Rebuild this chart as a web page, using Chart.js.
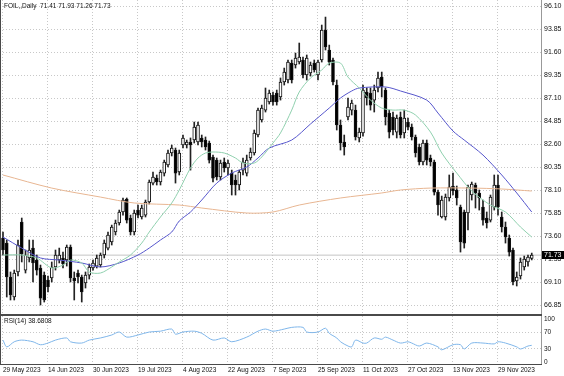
<!DOCTYPE html>
<html>
<head>
<meta charset="utf-8">
<script src="https://cdn.jsdelivr.net/npm/chart.js@4.4.0/dist/chart.umd.min.js"></script>
<style>
  html, body { margin: 0; padding: 0; background: #fff; }
  #wrap { position: relative; width: 564px; height: 376px; overflow: hidden; background: #fff; }
  canvas { position: absolute; left: 0; }
  #pricePane { top: 0; }
  #rsiPane { top: 314px; }
</style>
</head>
<body>
<div id="wrap">
  <canvas id="pricePane" width="564" height="314"></canvas>
  <canvas id="rsiPane" width="564" height="62"></canvas>
</div>
<script>
// ===== FOIL daily: candles + 3 MAs, RSI(14) pane =====

const symbolName = 'FOIL,,Daily';

// date axis: one label every 12 bars
const xLabelIdx = [0, 12, 24, 36, 48, 60, 72, 84, 96, 108, 120, 132];
const xLabels = ['29 May 2023', '14 Jun 2023', '30 Jun 2023', '19 Jul 2023', '4 Aug 2023', '22 Aug 2023',
  '7 Sep 2023', '25 Sep 2023', '11 Oct 2023', '27 Oct 2023', '13 Nov 2023', '29 Nov 2023'];

// price axis ticks
const priceTicks = [66.85, 69.10, 71.35, 73.60, 75.85, 78.10, 80.35, 82.60, 84.85, 87.10, 89.35, 91.60, 93.85, 96.10];
const rsiTicks = [0, 30, 70, 100];

// OHLC, one entry per daily bar
const open = [
  73.40, 72.91, 69.59, 67.63, 70.08, 74.97, 70.27, 71.45, 72.42, 71.25,
  70.47, 69.78, 69.29, 69.49, 70.57, 71.25, 71.45, 71.25, 72.52, 69.49,
  69.98, 69.59, 69.00, 69.78, 70.47, 70.66, 70.76, 71.74, 72.42, 73.01,
  73.99, 74.87, 75.95, 77.22, 75.36, 73.99, 76.14, 75.46, 75.65, 76.93,
  78.78, 79.27, 78.88, 79.76, 80.55, 81.72, 82.01, 79.86, 82.50, 82.50,
  82.80, 82.99, 82.80, 83.19, 82.99, 82.70, 81.33, 81.03, 79.37, 80.84,
  80.25, 79.76, 79.08, 78.59, 80.05, 79.76, 81.23, 81.72, 83.48, 84.95,
  85.92, 86.71, 87.39, 87.59, 87.20, 88.67, 88.86, 90.52, 90.33, 90.62,
  90.82, 89.35, 89.55, 90.52, 89.35, 90.82, 93.75, 91.80, 90.82, 88.37,
  84.46, 82.80, 85.24, 85.92, 85.92, 83.19, 83.68, 87.69, 87.59, 86.90,
  88.08, 89.15, 87.88, 85.63, 85.24, 83.77, 85.24, 83.68, 84.75, 84.26,
  83.29, 82.31, 80.84, 82.70, 81.23, 80.84, 77.90, 75.46, 75.46, 77.32,
  78.49, 78.10, 76.44, 75.95, 75.85, 77.61, 78.59, 77.81, 76.44, 75.36,
  75.16, 76.44, 78.59, 75.46, 74.48, 73.40, 72.23, 69.20, 69.69, 70.57,
  71.06, 71.41
];
const high = [
  73.99, 73.21, 70.08, 70.27, 73.21, 75.36, 72.23, 73.21, 73.21, 71.74,
  70.76, 70.08, 69.69, 71.06, 72.23, 72.42, 72.03, 72.72, 72.72, 70.08,
  70.27, 69.78, 70.08, 70.86, 71.25, 71.74, 71.94, 73.21, 73.99, 74.67,
  75.16, 76.14, 77.32, 77.32, 75.65, 76.14, 76.63, 76.63, 77.12, 79.08,
  79.86, 79.57, 80.05, 81.03, 82.01, 82.50, 82.21, 82.01, 83.48, 82.99,
  83.19, 84.75, 84.75, 83.48, 83.29, 82.89, 81.52, 81.23, 81.03, 81.23,
  81.03, 80.05, 79.57, 80.05, 81.23, 81.52, 82.21, 83.97, 86.12, 86.41,
  88.08, 87.88, 87.69, 87.88, 89.06, 90.03, 90.82, 90.82, 91.50, 92.48,
  91.11, 91.31, 90.62, 90.82, 90.82, 94.24, 95.02, 92.28, 91.01, 88.86,
  84.95, 83.48, 87.10, 86.90, 86.41, 84.16, 88.37, 88.08, 88.08, 88.37,
  89.64, 89.64, 88.08, 85.92, 85.73, 85.44, 85.73, 85.92, 85.14, 84.56,
  83.48, 82.60, 82.99, 82.99, 81.52, 81.03, 78.10, 77.51, 77.71, 79.57,
  79.76, 78.49, 76.63, 76.14, 78.59, 78.88, 78.78, 78.10, 77.12, 75.95,
  77.61, 79.57, 79.57, 75.95, 74.97, 73.70, 72.42, 70.08, 71.45, 71.64,
  71.74, 71.93
];
const low = [
  71.74, 67.63, 67.34, 67.34, 69.69, 71.06, 69.98, 71.06, 69.10, 69.78,
  66.85, 67.14, 68.12, 69.10, 70.27, 70.96, 70.47, 70.66, 69.10, 67.34,
  69.00, 67.14, 68.51, 69.39, 70.27, 70.47, 70.57, 71.45, 72.23, 72.72,
  73.70, 74.67, 75.65, 74.87, 73.70, 73.70, 75.36, 75.26, 75.46, 76.73,
  78.59, 78.59, 78.59, 79.47, 80.35, 81.43, 78.78, 79.57, 82.21, 82.21,
  80.05, 82.70, 82.50, 82.31, 82.01, 80.74, 78.88, 79.08, 79.08, 79.86,
  79.57, 77.61, 77.61, 78.10, 79.57, 79.47, 81.03, 81.52, 83.29, 84.75,
  85.73, 86.51, 86.41, 86.41, 86.90, 88.37, 88.57, 88.57, 90.03, 90.43,
  89.06, 88.86, 89.25, 89.64, 88.86, 90.62, 91.80, 90.33, 88.37, 83.97,
  82.01, 81.52, 84.95, 85.44, 82.99, 82.80, 83.38, 86.41, 85.92, 85.73,
  87.69, 87.20, 84.46, 83.19, 83.48, 83.19, 83.19, 83.19, 83.97, 82.99,
  81.33, 80.55, 80.55, 80.55, 80.45, 77.61, 75.65, 75.36, 75.16, 77.02,
  77.61, 76.63, 72.03, 72.42, 74.19, 77.12, 76.34, 76.14, 74.67, 74.38,
  74.97, 76.14, 75.65, 73.99, 72.91, 71.64, 68.81, 68.71, 69.39, 70.27,
  70.66, 71.26
];
const close = [
  72.23, 69.59, 67.83, 69.98, 72.72, 71.84, 71.74, 72.23, 70.96, 70.27,
  67.53, 67.34, 68.61, 70.57, 71.74, 71.74, 70.86, 72.52, 69.49, 69.20,
  69.59, 68.12, 69.78, 70.57, 70.96, 71.45, 71.74, 72.91, 73.70, 74.48,
  74.87, 75.95, 77.12, 75.16, 73.99, 75.85, 75.65, 76.34, 76.93, 78.88,
  79.37, 78.88, 79.86, 80.84, 81.72, 82.21, 79.76, 81.72, 83.19, 82.80,
  82.50, 84.26, 84.46, 82.80, 82.31, 81.03, 79.27, 79.37, 80.74, 80.25,
  80.74, 78.59, 78.59, 79.86, 80.84, 81.03, 81.82, 83.68, 85.92, 86.12,
  87.10, 87.59, 86.71, 86.71, 88.67, 89.64, 90.62, 88.86, 91.01, 91.11,
  89.35, 91.01, 90.33, 89.84, 90.62, 93.75, 92.09, 90.62, 88.67, 84.46,
  82.70, 82.31, 86.22, 86.61, 83.29, 83.77, 87.88, 87.10, 86.41, 87.88,
  89.06, 88.18, 85.24, 83.77, 83.97, 85.14, 83.48, 85.14, 84.26, 83.29,
  81.72, 80.84, 82.70, 81.03, 80.84, 77.90, 76.63, 77.12, 77.41, 78.39,
  78.00, 77.32, 73.01, 72.91, 78.39, 78.69, 77.81, 77.32, 75.16, 74.87,
  77.41, 78.59, 76.44, 74.48, 73.50, 72.03, 69.10, 69.59, 71.06, 71.35,
  71.54, 71.73
];

// moving averages (bar index, value)
const maFastIdx = [0, 5, 9, 13, 16, 18, 21, 23, 26, 29, 31, 34, 37, 39, 42, 45, 47, 50, 52, 54,
  56, 59, 62, 64, 67, 69, 72, 74, 77, 79, 82, 85, 87, 90, 92, 95, 98, 101, 104, 107,
  110, 114, 117, 121, 125, 130, 134, 138, 141];
const maFastVal = [71.74, 71.74, 71.45, 70.47, 70.76, 71.25, 70.96, 70.08, 69.98, 70.57,
  71.06, 71.74, 72.91, 73.99, 75.46, 76.83, 78.10, 80.25, 81.23, 81.72,
  81.82, 81.72, 81.23, 80.74, 80.74, 81.33, 82.70, 83.68, 85.92, 87.69,
  89.06, 89.84, 90.52, 90.52, 89.15, 88.08, 86.90, 86.12, 85.92, 85.92,
  85.44, 83.77, 81.72, 79.76, 78.00, 76.63, 75.95, 74.48, 73.50];

const maMidIdx = [0, 5, 10, 15, 21, 26, 31, 36, 39, 42, 45, 47, 50, 53, 57, 61, 65, 68, 71, 77,
  82, 87, 90, 93, 95, 102, 106, 113, 116, 120, 123, 128, 133, 137, 141];
const maMidVal = [73.50, 72.42, 71.45, 71.25, 70.96, 70.57, 70.96, 71.74, 72.42, 73.21,
  73.99, 75.07, 75.95, 77.12, 78.78, 79.76, 80.35, 81.23, 82.21, 82.99,
  84.56, 86.12, 87.10, 87.79, 88.08, 88.18, 87.79, 86.90, 85.63, 83.87,
  82.99, 81.52, 79.57, 77.81, 75.95];

const maSlowIdx = [0, 13, 26, 35, 47, 53, 65, 72, 79, 90, 101, 106, 114, 125, 133, 141];
const maSlowVal = [79.57, 78.29, 77.41, 76.83, 76.63, 76.34, 75.85, 75.95, 76.63, 77.32,
  77.81, 78.10, 78.29, 78.29, 78.20, 78.00];

// RSI(14)
const rsiIdx = [0, 1, 3, 5, 8, 10, 12, 14, 17, 18, 21, 23, 26, 29, 31, 33, 36, 39, 42, 45,
  46, 48, 51, 53, 56, 59, 61, 65, 68, 70, 72, 75, 77, 80, 81, 84, 86, 87, 89, 90,
  92, 93, 94, 96, 97, 99, 101, 102, 104, 106, 108, 109, 111, 113, 116, 117, 120, 122, 123, 125,
  128, 131, 132, 134, 137, 138, 140, 141];
const rsiVal = [51, 35, 47, 51, 47, 40, 44, 51, 56, 47, 44, 51, 56, 63, 70, 58, 63, 70, 72, 77,
  65, 70, 72, 67, 51, 56, 47, 58, 72, 77, 72, 77, 81, 81, 70, 70, 79, 67, 56, 47,
  37, 35, 51, 44, 44, 56, 53, 58, 51, 44, 47, 44, 37, 44, 35, 28, 40, 40, 30, 44,
  44, 42, 47, 44, 35, 30, 37, 38.68];
const rsiLast = 38.6808;

// ---- helpers / shared settings ----
const last = close.length - 1;
const X_MIN = -0.8, X_MAX = 143.47;
const FONT = '"Liberation Sans", Arial, sans-serif';
const GRID = '#c8c8c8';
const FRAME = '#4a4a4a';

const pts = (xs, ys) => xs.map((x, k) => ({ x, y: ys[k] }));
const noPad = s => { s.paddingTop = 0; s.paddingBottom = 0; s.paddingLeft = 0; s.paddingRight = 0; };

function lineSet(data, color, order) {
  return { type: 'line', data, borderColor: color, borderWidth: 1, pointRadius: 0, fill: false, tension: 0.3, order };
}

function xScale(showLabels) {
  return {
    type: 'linear', min: X_MIN, max: X_MAX, offset: false,
    afterBuildTicks: s => { s.ticks = xLabelIdx.map(v => ({ value: v })); },
    afterFit: s => { s.height = showLabels ? 12 : 0; noPad(s); },
    ticks: {
      display: showLabels, autoSkip: false, maxRotation: 0, align: 'start', padding: 2,
      font: { family: FONT, size: 6.5 }, color: '#111',
      callback: v => xLabels[xLabelIdx.indexOf(v)]
    },
    grid: { color: GRID, lineWidth: 1, drawTicks: false, offset: false },
    border: { display: false, dash: [1, 2] }
  };
}

// ---- price pane ----
const priceDecor = {
  id: 'priceDecor',
  afterDraw(chart) {
    const { ctx, chartArea: a, scales: { y } } = chart;
    ctx.save();
    ctx.strokeStyle = FRAME;
    ctx.lineWidth = 1;
    ctx.beginPath();
    ctx.moveTo(0.5, a.top); ctx.lineTo(0.5, a.bottom);
    ctx.stroke();
    ctx.strokeStyle = '#999';
    ctx.beginPath();
    ctx.moveTo(a.right + 0.5, a.top); ctx.lineTo(a.right + 0.5, a.bottom);
    ctx.stroke();

    ctx.fillStyle = '#111';
    ctx.font = '6.5px ' + FONT;
    ctx.textBaseline = 'middle';
    const ohlc = [open[last], high[last], low[last], close[last]].map(v => v.toFixed(2)).join(' ');
    ctx.fillText(symbolName + '  ' + ohlc, 4, 6);

    const py = Math.round(y.getPixelForValue(close[last]));
    ctx.fillStyle = '#000';
    ctx.fillRect(a.right + 1, py - 4, 22, 8);
    ctx.fillStyle = '#fff';
    ctx.font = '7px ' + FONT;
    ctx.fillText(close[last].toFixed(2), a.right + 3, py + 0.5);
    ctx.restore();
  }
};

new Chart(document.getElementById('pricePane'), {
  type: 'bar',
  data: {
    datasets: [
      lineSet(pts(maFastIdx, maFastVal), '#8fd0ae', 0),
      lineSet(pts(maMidIdx, maMidVal), '#5656cc', 0),
      lineSet(pts(maSlowIdx, maSlowVal), '#e8b692', 0),
      {
        type: 'bar', label: 'body',
        data: open.map((o, i) => ({ x: i, y: [o, close[i]] })),
        backgroundColor: c => (close[c.dataIndex] >= open[c.dataIndex] ? '#fff' : '#000'),
        borderColor: '#111', borderWidth: 1, borderSkipped: false,
        barThickness: 3, grouped: false, order: 1
      },
      {
        type: 'bar', label: 'wick',
        data: low.map((l, i) => ({ x: i, y: [l, high[i]] })),
        backgroundColor: '#222', borderWidth: 0,
        barThickness: 1, grouped: false, order: 2
      },
      lineSet([{ x: X_MIN, y: close[last] }, { x: X_MAX, y: close[last] }], '#c4c4c4', 3)
    ]
  },
  options: {
    responsive: false, animation: false, events: [],
    layout: { padding: 0 },
    plugins: { legend: { display: false }, tooltip: { enabled: false } },
    scales: {
      x: xScale(false),
      y: {
        position: 'right', min: 65.97, max: 96.69,
        afterBuildTicks: s => { s.ticks = priceTicks.map(v => ({ value: v })); },
        afterFit: s => { s.width = 23; noPad(s); },
        ticks: { font: { family: FONT, size: 7 }, color: '#111', padding: 3, callback: v => v.toFixed(2) },
        grid: { color: GRID, lineWidth: 1, drawTicks: false },
        border: { display: false, dash: [1, 2] }
      }
    }
  },
  plugins: [priceDecor]
});

// ---- RSI pane ----
const rsiDecor = {
  id: 'rsiDecor',
  afterDraw(chart) {
    const { ctx, chartArea: a } = chart;
    ctx.save();
    ctx.fillStyle = FRAME;
    ctx.fillRect(0, 0, a.right + 1, 2);
    ctx.strokeStyle = FRAME;
    ctx.lineWidth = 1;
    ctx.beginPath();
    ctx.moveTo(0, a.bottom + 0.5); ctx.lineTo(a.right + 1, a.bottom + 0.5);
    ctx.moveTo(0.5, a.top); ctx.lineTo(0.5, a.bottom);
    ctx.stroke();
    ctx.strokeStyle = '#999';
    ctx.beginPath();
    ctx.moveTo(a.right + 0.5, a.top); ctx.lineTo(a.right + 0.5, a.bottom);
    ctx.stroke();
    ctx.fillStyle = '#111';
    ctx.font = '6.5px ' + FONT;
    ctx.textBaseline = 'middle';
    ctx.fillText('RSI(14) ' + rsiLast.toFixed(4), 4, 7);
    ctx.restore();
  }
};

new Chart(document.getElementById('rsiPane'), {
  type: 'line',
  data: {
    datasets: [lineSet(pts(rsiIdx, rsiVal), '#7fb6ea', 0)]
  },
  options: {
    responsive: false, animation: false, events: [],
    layout: { padding: { top: 2, left: 0, right: 0, bottom: 0 } },
    plugins: { legend: { display: false }, tooltip: { enabled: false } },
    scales: {
      x: xScale(true),
      y: {
        position: 'right', min: -5.4, max: 107.8,
        afterBuildTicks: s => { s.ticks = rsiTicks.map(v => ({ value: v })); },
        afterFit: s => { s.width = 23; noPad(s); },
        ticks: { font: { family: FONT, size: 6.5 }, color: '#111', padding: 3 },
        grid: {
          color: c => (c.tick && (c.tick.value === 30 || c.tick.value === 70) ? GRID : 'rgba(0,0,0,0)'),
          lineWidth: 1, drawTicks: false
        },
        border: { display: false, dash: [1, 2] }
      }
    }
  },
  plugins: [rsiDecor]
});
</script>
</body>
</html>
